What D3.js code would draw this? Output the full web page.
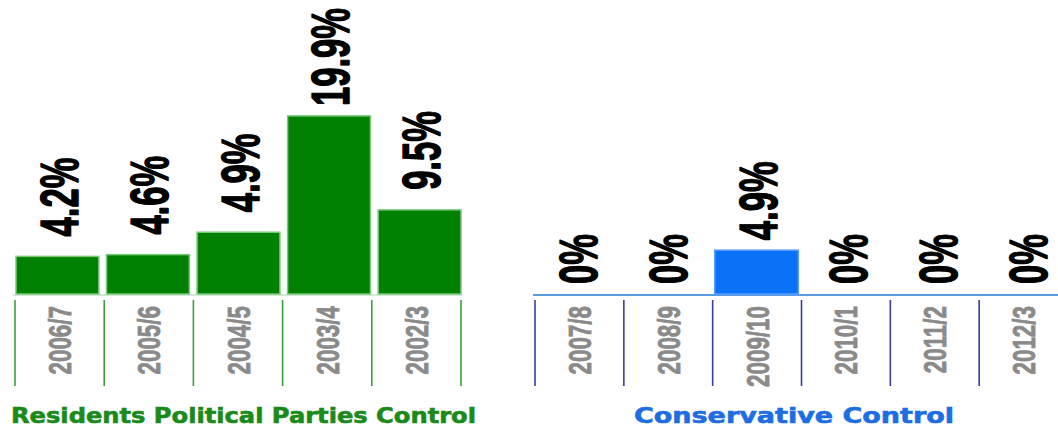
<!DOCTYPE html>
<html>
<head>
<meta charset="utf-8">
<script src="https://cdn.jsdelivr.net/npm/d3@7"></script>
<style>
  html, body { margin: 0; padding: 0; background: #ffffff; }
  svg { display: block; }
</style>
</head>
<body>
<svg id="chart" width="1058" height="430"></svg>
<script>
// ---- data ----
const leftCategories = ["2006/7", "2005/6", "2004/5", "2003/4", "2002/3"];
const leftValues = [4.2, 4.6, 4.9, 19.9, 9.5];          // printed percentages
const leftBarHeights = [4.2, 4.4, 6.9, 19.9, 9.4];      // bar heights as drawn
const leftTitle = "Residents Political Parties Control";

const rightCategories = ["2007/8", "2008/9", "2009/10", "2010/1", "2011/2", "2012/3"];
const rightValues = [0, 0, 4.9, 0, 0, 0];
const rightBarHeights = [0, 0, 4.9, 0, 0, 0];
const rightTitle = "Conservative Control";

const yDomain = [0, 20];

// ---- drawing ----
const svg = d3.select("#chart");
const y = d3.scaleLinear().domain(yDomain).range([294, 115]);
const topMargin = 8;
const labelScale = 0.64;

function panel(opts) {
  const g = svg.append("g");
  const n = opts.categories.length;
  const idx = d3.range(n);

  const xBar = d3.scaleBand().domain(idx).range(opts.barRange)
    .paddingInner(opts.padInner).paddingOuter(0);
  const xSep = d3.scaleBand().domain(idx).range(opts.sepRange).padding(0);

  // baseline
  g.append("line")
    .attr("x1", opts.baseRange[0]).attr("x2", opts.baseRange[1])
    .attr("y1", y(0) + 1).attr("y2", y(0) + 1)
    .attr("stroke", opts.baseColor).attr("stroke-width", opts.baseWidth);

  // bars
  g.selectAll("rect.bar").data(idx.filter(i => opts.heights[i] > 0)).join("rect")
    .attr("class", "bar")
    .attr("x", i => xBar(i))
    .attr("width", xBar.bandwidth())
    .attr("y", i => y(opts.heights[i]))
    .attr("height", i => y(0) - y(opts.heights[i]))
    .attr("fill", opts.barFill)
    .attr("stroke", opts.barStroke)
    .attr("stroke-width", 1.5);

  // value labels
  g.selectAll("text.val").data(idx).join("text")
    .attr("class", "val")
    .attr("dy", "0.36em")
    .attr("text-anchor", "start")
    .attr("font-family", "Liberation Sans, Arial, sans-serif")
    .attr("font-weight", "bold")
    .attr("font-size", 54)
    .attr("fill", "#000")
    .attr("stroke", "#000")
    .attr("stroke-width", 1.4)
    .attr("stroke-linejoin", "round")
    .text(i => opts.values[i] + "%")
    .attr("transform", function (i) {
      const len = this.getComputedTextLength() * labelScale;
      let base = y(opts.heights[i]) - opts.gap;
      if (base - len < topMargin) base = topMargin + len;   // keep label inside the chart
      return `translate(${xBar(i) + xBar.bandwidth() / 2 + 1},${base}) rotate(-90) scale(${labelScale},1)`;
    });

  // separators (axis ticks between categories)
  const sepXs = idx.map(i => xSep(i)).concat([xSep(n - 1) + xSep.bandwidth()]);
  g.selectAll("line.sep").data(sepXs).join("line")
    .attr("class", "sep")
    .attr("x1", d => d).attr("x2", d => d)
    .attr("y1", 300).attr("y2", 386)
    .attr("stroke", opts.sepColor).attr("stroke-width", 1.6);

  // category labels
  g.selectAll("text.cat").data(idx).join("text")
    .attr("class", "cat")
    .attr("transform", i => `translate(${xSep(i) + xSep.bandwidth() / 2},306) rotate(-90) scale(0.7,1)`)
    .attr("dy", "0.36em")
    .attr("text-anchor", "end")
    .attr("font-family", "Liberation Sans, Arial, sans-serif")
    .attr("font-weight", "bold")
    .attr("font-size", 32)
    .attr("fill", "#8a8a8a")
    .attr("stroke", "#8a8a8a")
    .attr("stroke-width", 0.8)
    .text(i => opts.categories[i]);

  // title
  g.append("text")
    .attr("x", opts.titleX).attr("y", 423)
    .attr("textLength", opts.titleLen)
    .attr("lengthAdjust", "spacingAndGlyphs")
    .attr("font-family", "DejaVu Sans, Verdana, sans-serif")
    .attr("font-weight", "bold")
    .attr("font-size", 21)
    .attr("fill", opts.titleColor)
    .attr("stroke", opts.titleColor)
    .attr("stroke-width", 0.6)
    .text(opts.title);
}

panel({
  categories: leftCategories, values: leftValues, heights: leftBarHeights,
  barRange: [16, 461], padInner: 0.085, sepRange: [15, 461],
  baseRange: [13, 462], baseColor: "#a9d4a9", baseWidth: 1,
  barFill: "#028002", barStroke: "#79c979",
  sepColor: "#3d9e3d", gap: 20,
  title: leftTitle, titleX: 11, titleLen: 465, titleColor: "#1a8a1a"
});

panel({
  categories: rightCategories, values: rightValues, heights: rightBarHeights,
  barRange: [535, 1068], padInner: 0.07, sepRange: [535, 1068],
  baseRange: [533, 1058], baseColor: "#5a9be0", baseWidth: 2,
  barFill: "#0a72f6", barStroke: "#5a9dff",
  sepColor: "#3a3aa8", gap: 10,
  title: rightTitle, titleX: 634, titleLen: 320, titleColor: "#1d6ee3"
});
</script>
</body>
</html>
